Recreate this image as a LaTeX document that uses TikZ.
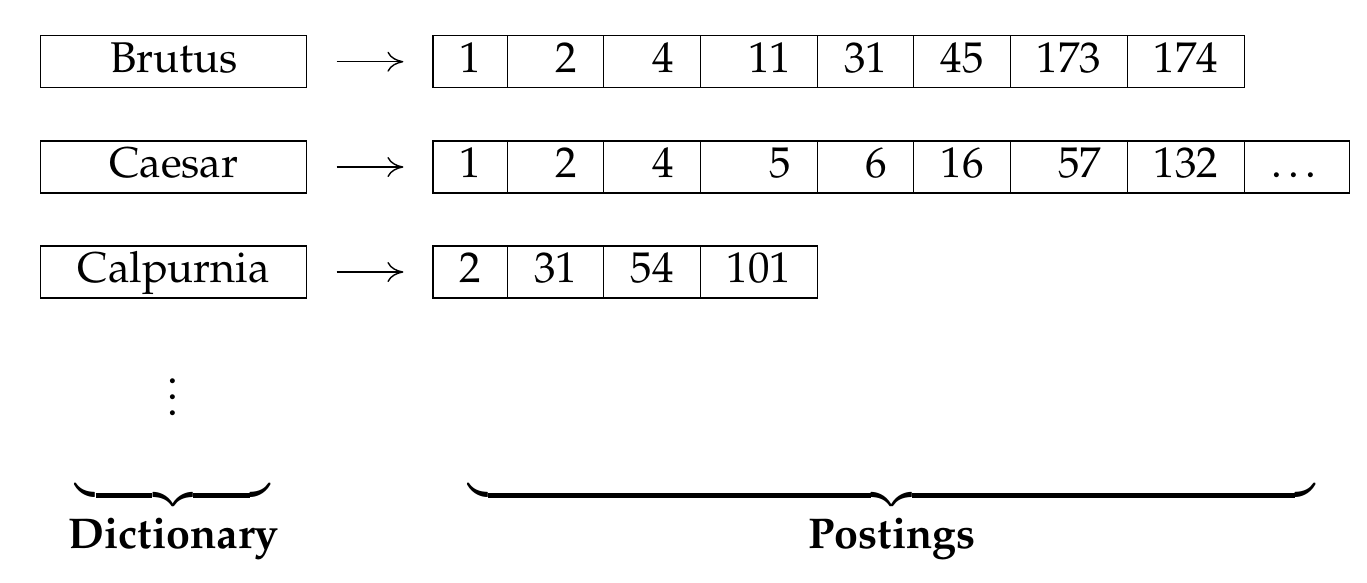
\documentclass[tikz,border=0pt]{standalone}
\usepackage[T1]{fontenc}
\usepackage{mathpazo}
\usetikzlibrary{positioning,arrows.meta}

\tikzset{
  term/.style={draw, line width=0.3pt, minimum width=66.5pt, inner xsep=0pt,
    inner ysep=0pt, text height=9.1pt, text depth=3.9pt, outer sep=0pt},
  post/.style={draw, line width=0.3pt, inner xsep=6.6pt, inner ysep=0pt,
    text height=9.1pt, text depth=3.9pt, align=right, outer sep=0pt},
  one/.style={post, text width=5.4pt},
  two/.style={post, text width=10.9pt},
  three/.style={post, text width=16.1pt},
  etc/.style={post, text width=13.05pt, align=center},
  link/.style={-{To[length=4pt,width=5pt]}, line width=0.35pt,
    shorten <=7.5pt, shorten >=7.4pt},
}

\begin{document}
\begin{tikzpicture}[x=0.25pt, y=-0.25pt, font=\fontsize{10.75}{12.9}\selectfont]
    \useasboundingbox (0,0) rectangle (1367,582);
    % dictionnaire
    \node[term] (brutus) at (173.7,61.7) {Brutus};
    \node[term] (caesar) at (173.7,167) {Caesar};
    \node[term] (calpurnia) at (173.7,272) {Calpurnia};
    % listes
    \node[one, anchor=west] (brutus1) at (433,61.7) {1};
    \node[two, right=0pt of brutus1] (brutus2) {2};
    \node[two, right=0pt of brutus2] (brutus3) {4};
    \node[three, right=0pt of brutus3] (brutus4) {11};
    \node[two, right=0pt of brutus4] (brutus5) {31};
    \node[two, right=0pt of brutus5] (brutus6) {45};
    \node[three, right=0pt of brutus6] (brutus7) {173};
    \node[three, right=0pt of brutus7] (brutus8) {174};
    \node[one, anchor=west] (caesar1) at (433,167) {1};
    \node[two, right=0pt of caesar1] (caesar2) {2};
    \node[two, right=0pt of caesar2] (caesar3) {4};
    \node[three, right=0pt of caesar3] (caesar4) {5};
    \node[two, right=0pt of caesar4] (caesar5) {6};
    \node[two, right=0pt of caesar5] (caesar6) {16};
    \node[three, right=0pt of caesar6] (caesar7) {57};
    \node[three, right=0pt of caesar7] (caesar8) {132};
    \node[etc, right=0pt of caesar8] (caesar9) {\ldots};
    \node[one, anchor=west] (calpurnia1) at (433,272) {2};
    \node[two, right=0pt of calpurnia1] (calpurnia2) {31};
    \node[two, right=0pt of calpurnia2] (calpurnia3) {54};
    \node[three, right=0pt of calpurnia3] (calpurnia4) {101};
    \draw[link] (brutus) -- (brutus1);
    \draw[link] (caesar) -- (caesar1);
    \draw[link] (calpurnia) -- (calpurnia1);
    \node[anchor=base, inner sep=0pt] (others) at (173.3,415.5) {$\vdots$};
    % accolades
    \node[inner sep=0pt] (dictbrace) at (172.9,495.3) {\hbox to 48.9pt{\upbracefill}};
    \node[inner sep=0pt] (postbrace) at (891.5,495.3) {\hbox to 212pt{\upbracefill}};
    \node[anchor=base] (dictlabel) at (173.7,548.3) {\textbf{Dictionary}};
    \node[anchor=base] (postlabel) at (892,548.3) {\textbf{Postings}};
\end{tikzpicture}
\end{document}
